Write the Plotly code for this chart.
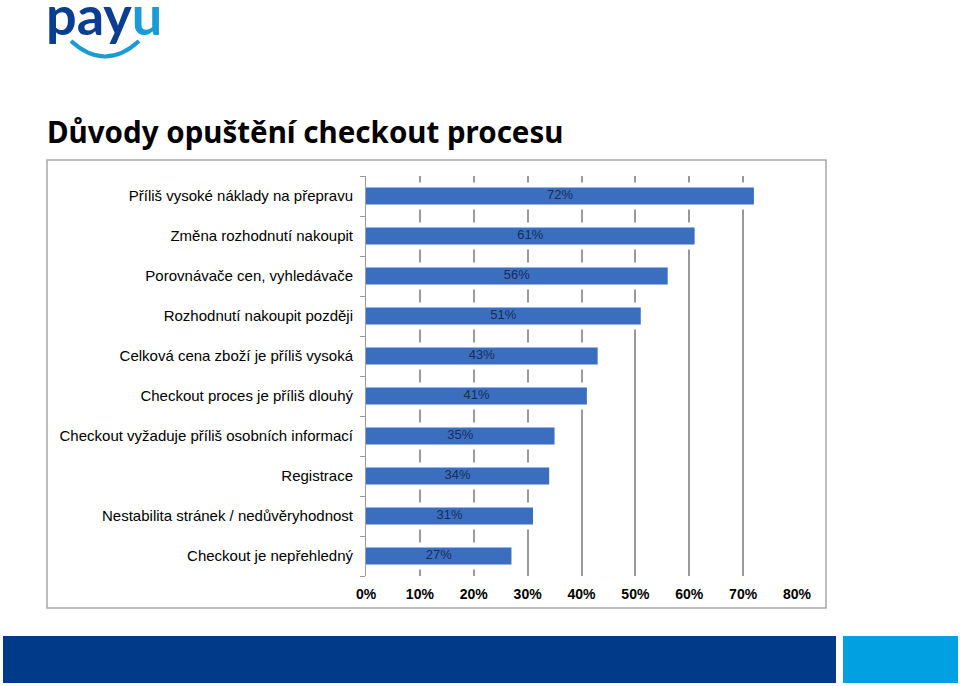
import plotly.graph_objects as go

categories = [
    "Příliš vysoké náklady na přepravu",
    "Změna rozhodnutí nakoupit",
    "Porovnávače cen, vyhledávače",
    "Rozhodnutí nakoupit později",
    "Celková cena zboží je příliš vysoká",
    "Checkout proces je příliš dlouhý",
    "Checkout vyžaduje příliš osobních informací",
    "Registrace",
    "Nestabilita stránek / nedůvěryhodnost",
    "Checkout je nepřehledný",
]
values = [72, 61, 56, 51, 43, 41, 35, 34, 31, 27]
tick_vals = [0, 10, 20, 30, 40, 50, 60, 70, 80]
tick_text = ["0%", "10%", "20%", "30%", "40%", "50%", "60%", "70%", "80%"]
title_text = "Důvody opuštění checkout procesu"

W, H = 960, 686
L, R, T, B = 366, 797, 176, 576

def px(x):
    return (x - L) / (R - L)

def py(y):
    return (B - y) / (B - T)

fig = go.Figure()
fig.add_trace(go.Bar(
    x=values,
    y=categories,
    orientation="h",
    width=0.43,
    marker=dict(color="#3a6fc0", line=dict(width=0)),
    hoverinfo="skip",
))
fig.add_trace(go.Scatter(
    x=[v / 2 for v in values],
    y=categories,
    mode="text",
    text=[f"{v}%" for v in values],
    textposition="middle center",
    textfont=dict(family="Liberation Sans Narrow, Liberation Sans, Arial", size=13, color="#1b2a58"),
    hoverinfo="skip",
))

n = len(categories)
shapes = []
# white glow around bars hides gridlines
for i, v in enumerate(values):
    idx = n - 1 - i
    shapes.append(dict(type="rect", xref="x", yref="y", layer="between",
                       x0=0.2, x1=v + 0.9, y0=idx - 0.34, y1=idx + 0.34,
                       line=dict(width=0), fillcolor="white"))
# frame
shapes.append(dict(type="rect", xref="paper", yref="paper",
                   x0=px(47), x1=px(826), y0=py(608), y1=py(160),
                   line=dict(color="#a8a8a8", width=1.5), fillcolor="rgba(0,0,0,0)"))
# bottom bars
shapes.append(dict(type="rect", xref="paper", yref="paper",
                   x0=px(3), x1=px(836), y0=py(683), y1=py(636),
                   line=dict(width=0), fillcolor="#003a88"))
shapes.append(dict(type="rect", xref="paper", yref="paper",
                   x0=px(843), x1=px(958), y0=py(683), y1=py(636),
                   line=dict(width=0), fillcolor="#00a0e1"))
# logo smile
shapes.append(dict(type="path", xref="paper", yref="paper",
                   path=f"M {px(71)},{py(41)} Q {px(105)},{py(72)} {px(139)},{py(41)}",
                   line=dict(color="#1a9ad6", width=4)))

annotations = [
    dict(text="<b>" + title_text + "</b>", xref="paper", yref="paper",
         x=px(45), y=py(131), xanchor="left", yanchor="middle", showarrow=False,
         font=dict(family="Noto Sans, Open Sans, DejaVu Sans", size=29.5, color="#000000")),
    dict(text="<b><span style='color:#0b3d91'>pay</span><span style='color:#1a9ad6'>u</span></b>",
         xref="paper", yref="paper", x=px(104), y=py(14), xanchor="center", yanchor="middle",
         showarrow=False, font=dict(family="Lato, Open Sans, Noto Sans", size=54)),
]

fig.update_layout(
    width=W, height=H,
    margin=dict(l=L, r=W - R, t=T, b=H - B),
    paper_bgcolor="white", plot_bgcolor="white",
    showlegend=False,
    shapes=shapes,
    annotations=annotations,
    xaxis=dict(range=[0, 80], tickvals=tick_vals, ticktext=tick_text,
               showgrid=True, gridcolor="#9a9a9a", gridwidth=1.5,
               zeroline=False, showline=False,
               tickfont=dict(family="Liberation Sans, Arial", size=14, color="#000000", weight="bold"),
               ticks="", ticklabelstandoff=8),
    yaxis=dict(categoryorder="array", categoryarray=categories[::-1],
               range=[-0.5, n - 0.5],
               showgrid=False, showline=True, linecolor="#9a9a9a", linewidth=1,
               ticks="outside", ticklen=5, tickcolor="#9a9a9a", tickson="boundaries",
               tickfont=dict(family="Liberation Sans, Arial", size=15, color="#000000"),
               ticklabelstandoff=9),
)

fig.write_html("out.html")
